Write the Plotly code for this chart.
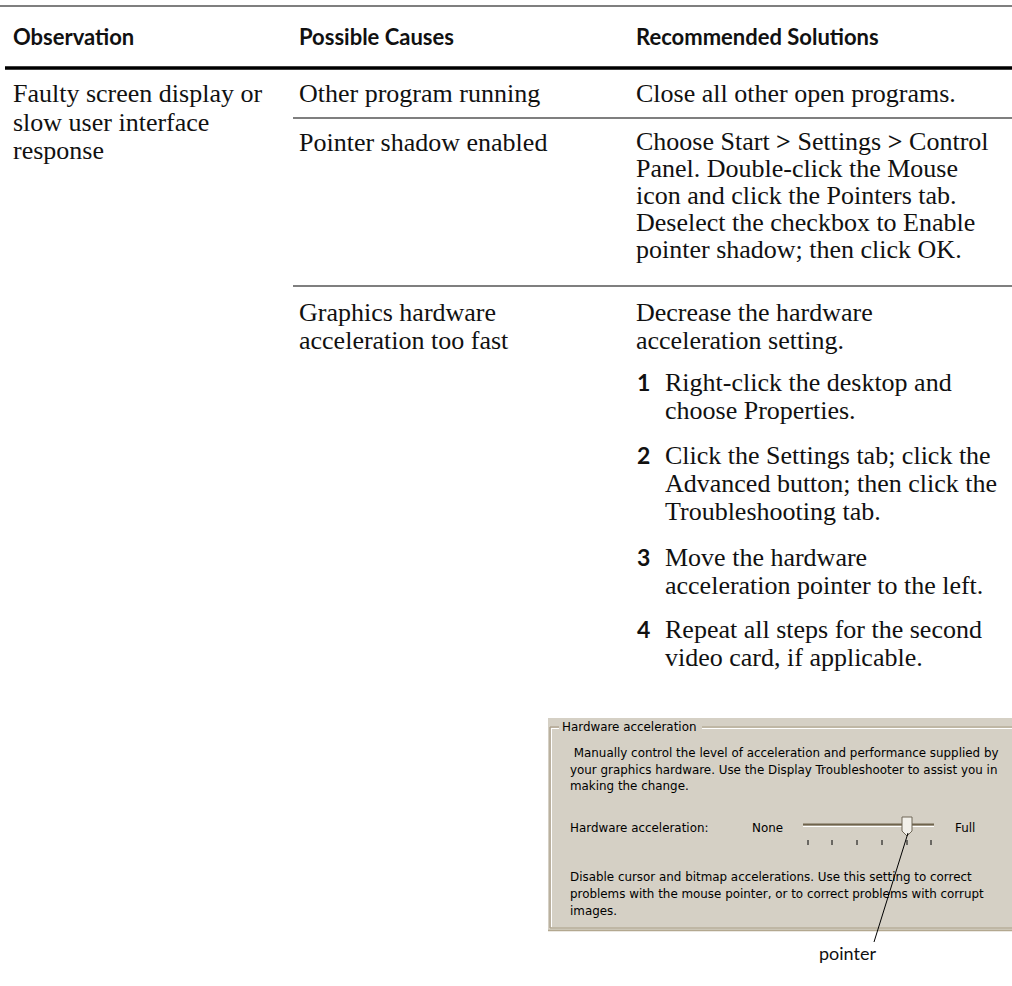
import plotly.graph_objects as go

# ---------------- data (text content and row positions) ----------------
header_labels = ["Observation", "Possible Causes", "Recommended Solutions"]
header_x = [11, 297, 634]
header_y = 36

observation_lines = ["Faulty screen display or", "slow user interface", "response"]
observation_y = [93, 122, 150]

cause_lines = ["Other program running", "Pointer shadow enabled",
               "Graphics hardware", "acceleration too fast"]
cause_y = [93, 142, 312, 340]

solution_lines = [
    "Close all other open programs.",
    "Choose Start <b>&gt;</b> Settings <b>&gt;</b> Control",
    "Panel. Double-click the Mouse",
    "icon and click the Pointers tab.",
    "Deselect the checkbox to Enable",
    "pointer shadow; then click OK.",
    "Decrease the hardware",
    "acceleration setting.",
]
solution_y = [93, 141, 168, 195, 222, 249, 312, 340]

step_numbers = ["1", "2", "3", "4"]
step_number_y = [382, 455, 557, 629]
step_lines = [
    "Right-click the desktop and", "choose Properties.",
    "Click the Settings tab; click the", "Advanced button; then click the", "Troubleshooting tab.",
    "Move the hardware", "acceleration pointer to the left.",
    "Repeat all steps for the second", "video card, if applicable.",
]
step_y = [382, 410, 455, 483, 511, 557, 585, 629, 657]

rule_y = [6, 68, 118, 286]
rule_x0 = [0, 5, 293, 293]
rule_w = [1.2, 3.5, 1.2, 1.2]

# screenshot panel texts
panel_lines = [
    "Hardware acceleration",
    " Manually control the level of acceleration and performance supplied by",
    "your graphics hardware. Use the Display Troubleshooter to assist you in",
    "making the change.",
    "Hardware acceleration:",
    "None",
    "Full",
    "Disable cursor and bitmap accelerations. Use this setting to correct",
    "problems with the mouse pointer, or to correct problems with corrupt",
    "images.",
]
panel_x = [560, 568, 568, 568, 568, 750, 953, 568, 568, 568]
panel_y = [727, 753, 770, 786, 828, 828, 828, 877, 894, 911]
slider_ticks = [808, 832, 857, 882, 907, 931]
callout_label = "pointer"

# ---------------- figure ----------------
W, H = 1012, 986
SERIF = "Liberation Serif"
SANS = "Lato"
PANEL_FONT = "DejaVu Sans"
INK = "#111111"
BODY = 26

fig = go.Figure()
fig.add_trace(go.Scatter(x=[0, W], y=[0, H], mode="markers",
                         marker=dict(opacity=0), hoverinfo="skip", showlegend=False))

ann = []


def add_text(txt, x, y, family, size, bold=False, xanchor="left", color=INK):
    ann.append(dict(x=x, y=y, xref="x", yref="y", text=txt, showarrow=False,
                    xanchor=xanchor, yanchor="middle",
                    font=dict(family=family, size=size, color=color,
                              weight="bold" if bold else "normal")))


for lab, x in zip(header_labels, header_x):
    add_text(lab, x, header_y, SANS, 22, bold=True)
for t, y in zip(observation_lines, observation_y):
    add_text(t, 11, y, SERIF, BODY)
for t, y in zip(cause_lines, cause_y):
    add_text(t, 297, y, SERIF, BODY)
for t, y in zip(solution_lines, solution_y):
    add_text(t, 634, y, SERIF, BODY)
for n, y in zip(step_numbers, step_number_y):
    add_text(n, 635, y, SANS, 23, bold=True)
for t, y in zip(step_lines, step_y):
    add_text(t, 663, y, SERIF, BODY)

shapes = []
for y, x0, w in zip(rule_y, rule_x0, rule_w):
    shapes.append(dict(type="line", xref="x", yref="y", x0=x0, x1=W, y0=y, y1=y,
                       line=dict(color="#000000", width=w)))

# panel background
PANEL_BG = "#D5D0C5"
shapes.append(dict(type="rect", xref="x", yref="y", x0=548, x1=W, y0=718, y1=931,
                   fillcolor=PANEL_BG, line=dict(width=0), layer="below"))
# group box etched border
ETCH = "#A99D86"
for (xa, ya, xb, yb) in [(550, 727, 559, 727), (702, 727, W, 727),
                         (550, 727, 550, 928), (550, 928, W, 928)]:
    shapes.append(dict(type="line", xref="x", yref="y", x0=xa, x1=xb, y0=ya, y1=yb,
                       line=dict(color=ETCH, width=1.2)))
for (xa, ya, xb, yb) in [(551, 728.5, 559, 728.5), (702, 728.5, W, 728.5),
                         (551.5, 728, 551.5, 927)]:
    shapes.append(dict(type="line", xref="x", yref="y", x0=xa, x1=xb, y0=ya, y1=yb,
                       line=dict(color="#FFFFFF", width=1)))
shapes.append(dict(type="line", xref="x", yref="y", x0=548, x1=W, y0=930.5, y1=930.5,
                   line=dict(color="#B3A890", width=1.5)))

# slider groove
shapes.append(dict(type="line", xref="x", yref="y", x0=803, x1=934, y0=824.5, y1=824.5,
                   line=dict(color="#6F634C", width=2)))
shapes.append(dict(type="line", xref="x", yref="y", x0=803, x1=934, y0=826.5, y1=826.5,
                   line=dict(color="#FFFFFF", width=1)))
# slider thumb
shapes.append(dict(type="path", xref="x", yref="y",
                   path="M 902 817 L 912 817 L 912 831 L 907 836 L 902 831 Z",
                   fillcolor="#F2F0EA", line=dict(color="#6E6656", width=1)))
# ticks
for tx in slider_ticks:
    shapes.append(dict(type="line", xref="x", yref="y", x0=tx, x1=tx, y0=840, y1=845,
                       line=dict(color="#000000", width=1)))

# callout leader line
shapes.append(dict(type="line", xref="x", yref="y", x0=908, x1=874, y0=833, y1=942,
                   line=dict(color="#000000", width=1)))

for t, x, y in zip(panel_lines, panel_x, panel_y):
    add_text(t, x, y, PANEL_FONT, 11.9, color="#000000")
add_text(callout_label, 847, 953, SANS, 18, xanchor="center")

fig.update_layout(
    width=W, height=H,
    margin=dict(l=0, r=0, t=0, b=0),
    paper_bgcolor="white", plot_bgcolor="white",
    xaxis=dict(range=[0, W], visible=False, fixedrange=True),
    yaxis=dict(range=[H, 0], visible=False, fixedrange=True),
    showlegend=False,
    annotations=ann,
    shapes=shapes,
)

fig.write_html("out.html", config={"displayModeBar": False},
               post_script="document.body.style.margin='0';")
